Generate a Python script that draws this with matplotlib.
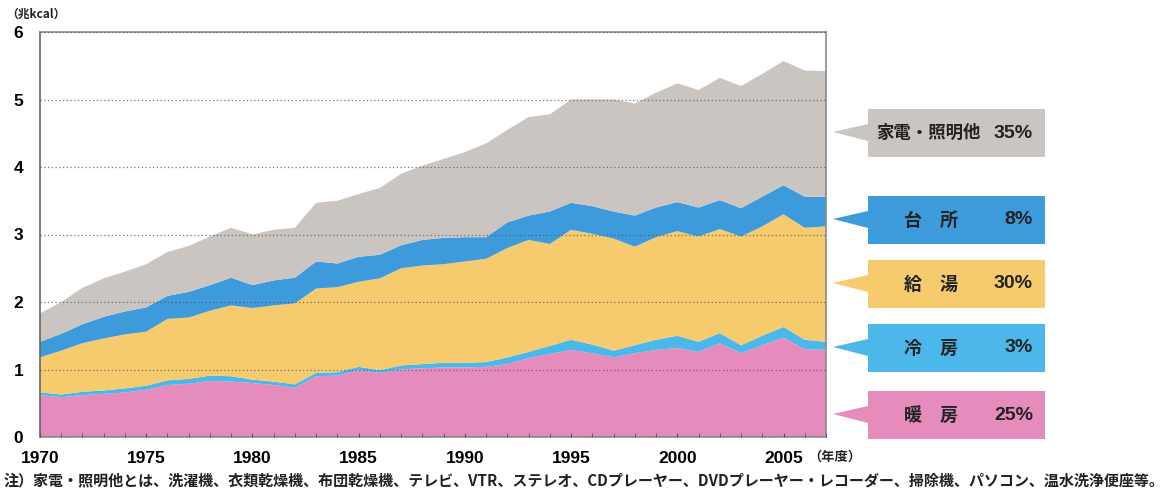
import matplotlib
matplotlib.use("Agg")
import matplotlib.pyplot as plt
from matplotlib.patches import Polygon
import numpy as np

plt.rcParams['font.family'] = ['Noto Sans CJK JP', 'DejaVu Sans']

# データ (兆kcal) 1970-2007年度
years = np.arange(1970, 2008)
heating = [0.62, 0.59, 0.62, 0.64, 0.66, 0.70, 0.77, 0.79, 0.83, 0.82,
           0.80, 0.77, 0.73, 0.90, 0.91, 0.99, 0.95, 1.00, 1.02, 1.03,
           1.03, 1.04, 1.08, 1.17, 1.23, 1.29, 1.24, 1.18, 1.24, 1.29,
           1.32, 1.26, 1.39, 1.24, 1.36, 1.47, 1.30, 1.29]
cooling = [0.04, 0.04, 0.05, 0.05, 0.06, 0.06, 0.07, 0.07, 0.08, 0.08,
           0.05, 0.05, 0.05, 0.05, 0.05, 0.05, 0.04, 0.06, 0.06, 0.07,
           0.07, 0.07, 0.10, 0.09, 0.12, 0.15, 0.13, 0.10, 0.12, 0.15,
           0.18, 0.15, 0.15, 0.12, 0.14, 0.16, 0.14, 0.12]
hotwater = [0.52, 0.65, 0.72, 0.77, 0.80, 0.80, 0.91, 0.91, 0.96, 1.05,
            1.06, 1.13, 1.20, 1.25, 1.26, 1.26, 1.36, 1.44, 1.46, 1.46,
            1.50, 1.53, 1.62, 1.66, 1.51, 1.63, 1.64, 1.66, 1.46, 1.52,
            1.55, 1.56, 1.54, 1.61, 1.62, 1.67, 1.66, 1.71]
kitchen = [0.23, 0.25, 0.28, 0.32, 0.34, 0.36, 0.34, 0.38, 0.38, 0.41,
           0.34, 0.37, 0.38, 0.40, 0.35, 0.37, 0.35, 0.34, 0.38, 0.39,
           0.36, 0.32, 0.38, 0.36, 0.48, 0.40, 0.41, 0.40, 0.46, 0.44,
           0.43, 0.43, 0.43, 0.42, 0.44, 0.43, 0.46, 0.44]
appliances = [0.42, 0.47, 0.54, 0.57, 0.59, 0.64, 0.65, 0.68, 0.72, 0.74,
              0.75, 0.75, 0.74, 0.87, 0.93, 0.93, 0.99, 1.06, 1.10, 1.17,
              1.26, 1.39, 1.37, 1.46, 1.44, 1.53, 1.58, 1.66, 1.66, 1.70,
              1.76, 1.74, 1.81, 1.81, 1.82, 1.84, 1.87, 1.86]

# 凡例 (上から)
labels = ["家電・照明他", "台　所", "給　湯", "冷　房", "暖　房"]
shares = ["35%", "8%", "30%", "3%", "25%"]
label_colors = ["#CBC5C2", "#3D9BDB", "#F6CB6E", "#4CB7E9", "#E68CBD"]
xticks = [1970, 1975, 1980, 1985, 1990, 1995, 2000, 2005]
yticks = [0, 1, 2, 3, 4, 5, 6]

W, H = 1172, 496
fig = plt.figure(figsize=(W / 100, H / 100), dpi=100)
ax = fig.add_axes([40 / W, 1 - 437 / H, 786 / W, 405 / H])

ax.stackplot(years, heating, cooling, hotwater, kitchen, appliances,
             colors=["#E68CBD", "#4CB7E9", "#F6CB6E", "#3D9BDB", "#CBC5C2"],
             linewidth=0)
ax.set_xlim(1970, 2007)
ax.set_ylim(0, 6)
ax.set_xticks(xticks)
ax.set_xticks(years, minor=True)
ax.set_yticks(yticks)
tick_font = dict(family='Liberation Sans', weight='bold', size=12.5)
ax.set_xticklabels([str(t) for t in xticks], fontdict=tick_font)
ax.set_yticklabels([str(t) for t in yticks], fontdict=tick_font)
ax.tick_params(axis='x', which='both', direction='in', length=3, color='#555', pad=10)
ax.tick_params(axis='y', length=0, pad=12)
ax.set_axisbelow(False)
ax.yaxis.grid(True, linestyle=(0, (1, 2)), color='#555', linewidth=0.9, alpha=0.8)
for s in ax.spines.values():
    s.set_color('#8a8a8a')
    s.set_linewidth(1.2)
ax.spines['left'].set_color('#666')

# 注記・単位
fig.text(6 / W, 1 - 14 / H, "（兆kcal）", fontsize=8.5, va='center', ha='left',
         color='#222', weight='bold')
fig.text(808 / W, 1 - 457 / H, "（年度）", fontsize=9.5, va='center', ha='left',
         color='#222', weight='bold')
fig.text(4 / W, 1 - 480 / H,
         "注）家電・照明他とは、洗濯機、衣類乾燥機、布団乾燥機、テレビ、VTR、ステレオ、CDプレーヤー、"
         "DVDプレーヤー・レコーダー、掃除機、パソコン、温水洗浄便座等。",
         fontsize=10.85, va='center', ha='left', color='#222', weight='bold')

# 吹き出しラベル
ov = fig.add_axes([0, 0, 1, 1])
ov.set_xlim(0, W)
ov.set_ylim(H, 0)
ov.axis('off')
box_y = [133, 220, 284, 348, 415]
for lab, sh, col, cy in zip(labels, shares, label_colors, box_y):
    ov.add_patch(Polygon([[868, cy - 24], [1045, cy - 24], [1045, cy + 24], [868, cy + 24],
                          [868, cy + 8], [833, cy - 1], [868, cy - 9]],
                         closed=True, facecolor=col, edgecolor='none'))
    if lab == labels[0]:
        ov.text(876, cy, lab, ha='left', va='center', fontsize=12.5, weight='bold', color='#222')
    else:
        ov.text(931, cy, lab, ha='center', va='center', fontsize=13, weight='bold', color='#222')
    ov.text(1033, cy, sh, ha='right', va='center', fontsize=14, weight='bold',
            color='#222', family=['Liberation Sans', 'DejaVu Sans'])

fig.savefig("out.png", dpi=100)
